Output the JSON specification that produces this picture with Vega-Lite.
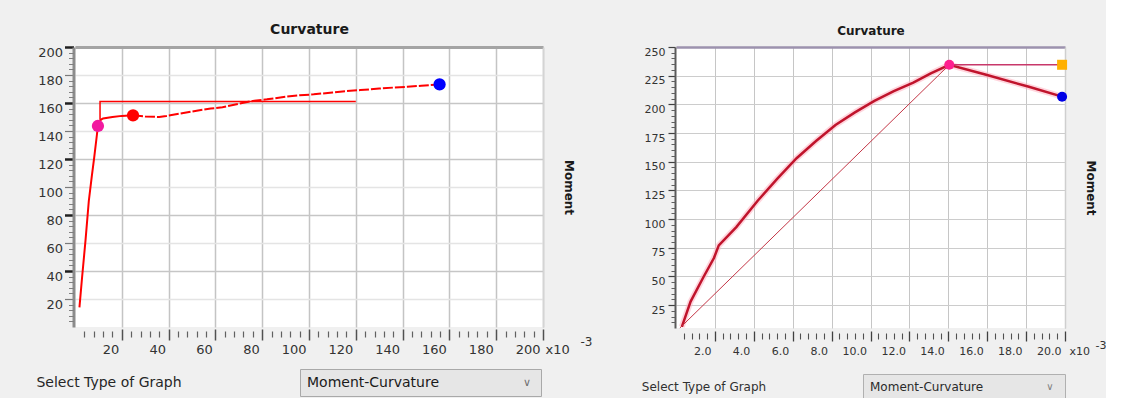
{
  "$schema": "https://vega.github.io/schema/vega-lite/v6.json",
  "background": "#f0f0f0",
  "padding": {"left": 36, "top": 22, "right": 0, "bottom": 0},
  "spacing": 49,
  "resolve": {"scale": {"color": "independent", "shape": "independent"}},
  "datasets": {
    "leftCurve": [
      {"curvature": 1.9, "moment": 14}, {"curvature": 3.0, "moment": 35}, {"curvature": 4.5, "moment": 62},
      {"curvature": 5.9, "moment": 90}, {"curvature": 7.2, "moment": 108}, {"curvature": 8.2, "moment": 121},
      {"curvature": 9.2, "moment": 135}, {"curvature": 9.8, "moment": 143.6}, {"curvature": 11.0, "moment": 148},
      {"curvature": 12.0, "moment": 149}, {"curvature": 16, "moment": 150}, {"curvature": 20, "moment": 150.8},
      {"curvature": 24.8, "moment": 151.2}
    ],
    "leftCurveTail": [
      {"curvature": 24.8, "moment": 151.2}, {"curvature": 30, "moment": 150.3}, {"curvature": 36, "moment": 150},
      {"curvature": 39, "moment": 150.7}, {"curvature": 45, "moment": 152.5}, {"curvature": 52, "moment": 154.5},
      {"curvature": 58, "moment": 156}, {"curvature": 63, "moment": 157}, {"curvature": 70, "moment": 159.5},
      {"curvature": 76, "moment": 161.5}, {"curvature": 82, "moment": 162.6}, {"curvature": 90, "moment": 164.5},
      {"curvature": 96, "moment": 165.5}, {"curvature": 102, "moment": 166.2}, {"curvature": 110, "moment": 167.5},
      {"curvature": 116, "moment": 168.5}, {"curvature": 122, "moment": 169.2}, {"curvature": 130, "moment": 170.3},
      {"curvature": 136, "moment": 171}, {"curvature": 142, "moment": 171.6}, {"curvature": 148, "moment": 172.3},
      {"curvature": 155.8, "moment": 173.3}
    ],
    "leftEnvelope": [
      {"seq": 1, "curvature": 10.7, "moment": 148},
      {"seq": 2, "curvature": 10.7, "moment": 161},
      {"seq": 3, "curvature": 120, "moment": 161}
    ],
    "leftPoints": [
      {"state": "yield", "curvature": 9.8, "moment": 143.6},
      {"state": "post-yield", "curvature": 24.8, "moment": 151.2},
      {"state": "ultimate", "curvature": 155.8, "moment": 173.3}
    ],
    "rightCurve": [
      {"curvature": 0.3, "moment": 6}, {"curvature": 0.75, "moment": 28}, {"curvature": 1.4, "moment": 49},
      {"curvature": 1.95, "moment": 66}, {"curvature": 2.2, "moment": 77}, {"curvature": 3.1, "moment": 93},
      {"curvature": 4.2, "moment": 116}, {"curvature": 5.2, "moment": 135}, {"curvature": 6.2, "moment": 153},
      {"curvature": 7.2, "moment": 168}, {"curvature": 8.2, "moment": 182}, {"curvature": 9.2, "moment": 193},
      {"curvature": 10.2, "moment": 203}, {"curvature": 11.2, "moment": 211.5}, {"curvature": 12.2, "moment": 219},
      {"curvature": 13.1, "moment": 227}, {"curvature": 14.05, "moment": 234.5}, {"curvature": 15.9, "moment": 226},
      {"curvature": 18.1, "moment": 215.5}, {"curvature": 19.85, "moment": 206.7}
    ],
    "rightSecant": [
      {"curvature": 0.2, "moment": 5},
      {"curvature": 14.05, "moment": 234.5}
    ],
    "rightPlateau": [
      {"curvature": 14.05, "moment": 234.5},
      {"curvature": 19.85, "moment": 234.5}
    ],
    "rightPoints": [
      {"state": "yield", "curvature": 14.05, "moment": 234.5},
      {"state": "plastic", "curvature": 19.85, "moment": 234.5},
      {"state": "ultimate", "curvature": 19.85, "moment": 206.7}
    ]
  },
  "hconcat": [
    {
      "vconcat": [
        {
          "width": 468,
          "height": 280,
          "layer": [
            {
              "data": {"name": "leftEnvelope"},
              "mark": {"type": "line", "color": "#ff0000", "strokeWidth": 1.5},
              "encoding": {
                "x": {
                  "field": "curvature", "type": "quantitative",
                  "scale": {"domain": [0, 200], "nice": false, "zero": false},
                  "axis": {
                    "orient": "bottom", "values": [20, 40, 60, 80, 100, 120, 140, 160, 180, 200],
                    "grid": true, "gridColor": "#c4c4c4", "gridWidth": 1.5, "domain": false,
                    "offset": 2, "tickSize": 11, "tickColor": "#505050", "tickWidth": 1.5,
                    "labelFontSize": 13, "labelAlign": "right", "labelOffset": -3, "labelPadding": 3,
                    "labelFlush": false, "labelOverlap": false, "labelColor": "#333333",
                    "title": "x10", "titleX": 470, "titleY": 14, "titleAlign": "left", "titleBaseline": "top",
                    "titleFontSize": 13, "titleFontWeight": "normal", "titleColor": "#333333"
                  }
                },
                "y": {
                  "field": "moment", "type": "quantitative",
                  "scale": {"domain": [0, 200], "nice": false, "zero": false},
                  "axis": {
                    "orient": "left", "values": [20, 40, 60, 80, 100, 120, 140, 160, 180, 200],
                    "grid": true,
                    "gridColor": {"condition": {"test": "datum.value % 40 === 0", "value": "#c6c6c6"}, "value": "#e4e4e4"},
                    "gridWidth": 1.5,
                    "domain": true, "domainColor": "#8c8c8c", "domainWidth": 3, "offset": 1.5,
                    "tickSize": 9,
                    "tickColor": {"condition": {"test": "datum.value % 40 === 0", "value": "#202020"}, "value": "#7a7a7a"},
                    "tickWidth": {"condition": {"test": "datum.value % 40 === 0", "value": 2.5}, "value": 1.2},
                    "labelFontSize": 13, "labelPadding": 2, "labelOffset": 5, "labelColor": "#333333",
                    "labelFlush": false, "labelOverlap": false,
                    "title": null
                  }
                },
                "order": {"field": "seq", "type": "quantitative"}
              }
            },
            {
              "data": {"name": "leftCurve"},
              "mark": {"type": "line", "color": "#ff0000", "strokeWidth": 2},
              "encoding": {
                "x": {
                  "field": "curvature", "type": "quantitative",
                  "scale": {"domain": [0, 200], "nice": false, "zero": false},
                  "axis": {
                    "orient": "bottom",
                    "values": [4, 8, 12, 16, 24, 28, 32, 36, 44, 48, 52, 56, 64, 68, 72, 76, 84, 88, 92, 96, 104, 108, 112, 116, 124, 128, 132, 136, 144, 148, 152, 156, 164, 168, 172, 176, 184, 188, 192, 196],
                    "grid": false, "domain": false, "labels": false,
                    "offset": 4, "tickSize": 6, "tickColor": "#606060", "tickWidth": 1.2,
                    "title": "-3", "titleX": 505, "titleY": 5, "titleAlign": "left", "titleBaseline": "top",
                    "titleFontSize": 12, "titleFontWeight": "normal", "titleColor": "#333333"
                  }
                },
                "y": {
                  "field": "moment", "type": "quantitative",
                  "scale": {"domain": [0, 200], "nice": false, "zero": false},
                  "axis": {
                    "orient": "left",
                    "values": [4, 8, 12, 16, 24, 28, 32, 36, 44, 48, 52, 56, 64, 68, 72, 76, 84, 88, 92, 96, 104, 108, 112, 116, 124, 128, 132, 136, 144, 148, 152, 156, 164, 168, 172, 176, 184, 188, 192, 196],
                    "grid": false, "domain": false, "labels": false,
                    "offset": 1.5, "tickSize": 5, "tickColor": "#808080", "tickWidth": 1,
                    "title": null
                  }
                }
              }
            },
            {
              "data": {"name": "leftCurveTail"},
              "mark": {"type": "line", "color": "#ff0000", "strokeWidth": 2, "strokeDash": [10, 2]},
              "encoding": {
                "x": {"field": "curvature", "type": "quantitative", "scale": {"domain": [0, 200], "nice": false, "zero": false}, "axis": null},
                "y": {"field": "moment", "type": "quantitative", "scale": {"domain": [0, 200], "nice": false, "zero": false}, "axis": null}
              }
            },
            {
              "data": {"name": "leftPoints"},
              "mark": {"type": "point", "filled": true, "size": 150, "opacity": 1},
              "encoding": {
                "x": {
                  "field": "curvature", "type": "quantitative",
                  "scale": {"domain": [0, 200], "nice": false, "zero": false},
                  "axis": {
                    "orient": "top", "labels": false, "ticks": false, "grid": false,
                    "domain": true, "domainColor": "#a4a4a4", "domainWidth": 3,
                    "title": "Curvature", "titleFontSize": 14, "titleFontWeight": "bold",
                    "titlePadding": 11, "titleColor": "#1a1a1a"
                  }
                },
                "y": {
                  "field": "moment", "type": "quantitative",
                  "scale": {"domain": [0, 200], "nice": false, "zero": false},
                  "axis": {
                    "orient": "right", "labels": false, "ticks": false, "grid": false,
                    "domain": true, "domainColor": "#d4d4d4", "domainWidth": 1.5,
                    "title": "Moment", "titleFontSize": 12, "titleFontWeight": "bold",
                    "titlePadding": 18, "titleColor": "#1a1a1a"
                  }
                },
                "color": {
                  "field": "state", "type": "nominal",
                  "scale": {"domain": ["yield", "post-yield", "ultimate"], "range": ["#f21aa0", "#ff0000", "#0000ff"]},
                  "legend": null
                }
              }
            }
          ],
          "resolve": {"axis": {"x": "independent", "y": "independent"}}
        },
        {
          "hconcat": [
            {
              "width": 68,
              "height": 27,
              "view": {"fill": null, "stroke": null},
              "data": {"values": [{"caption": "Select Type of Graph"}]},
              "mark": {"type": "text", "fontSize": 14, "color": "#262626"},
              "encoding": {"text": {"field": "caption"}}
            },
            {
              "width": 241,
              "height": 27,
              "view": {"fill": "#e6e6e6", "stroke": "#a9a9a9"},
              "data": {"values": [{"choice": "Moment-Curvature"}]},
              "layer": [
                {
                  "mark": {"type": "text", "align": "left", "dx": -113.5, "fontSize": 14, "color": "#1a1a1a"},
                  "encoding": {"text": {"field": "choice"}}
                },
                {
                  "mark": {"type": "text", "dx": 106.5, "fontSize": 11, "color": "#707070"},
                  "encoding": {"text": {"value": "∨"}}
                }
              ]
            }
          ],
          "spacing": 117
        }
      ],
      "spacing": 12
    },
    {
      "vconcat": [
        {
          "width": 389,
          "height": 281,
          "layer": [
            {
              "data": {"name": "rightCurve"},
              "mark": {"type": "line", "color": "#ffb3c1", "strokeWidth": 6, "opacity": 0.55},
              "encoding": {
                "x": {
                  "field": "curvature", "type": "quantitative",
                  "scale": {"domain": [0, 20], "nice": false, "zero": false},
                  "axis": {
                    "orient": "bottom", "values": [2, 4, 6, 8, 10, 12, 14, 16, 18, 20], "format": ".1f",
                    "grid": true, "gridColor": "#c6c6c6", "gridWidth": 1, "domain": false,
                    "offset": 3, "tickSize": 10, "tickColor": "#404040", "tickWidth": 1.3,
                    "labelFontSize": 11, "labelAlign": "right", "labelOffset": -4, "labelPadding": 4,
                    "labelFlush": false, "labelOverlap": false, "labelColor": "#333333",
                    "title": "x10", "titleX": 393, "titleY": 14, "titleAlign": "left", "titleBaseline": "top",
                    "titleFontSize": 11, "titleFontWeight": "normal", "titleColor": "#333333"
                  }
                },
                "y": {
                  "field": "moment", "type": "quantitative",
                  "scale": {"domain": [5, 250], "nice": false, "zero": false},
                  "axis": {
                    "orient": "left", "values": [25, 50, 75, 100, 125, 150, 175, 200, 225, 250],
                    "grid": true, "gridColor": "#cccccc", "gridWidth": 1,
                    "domain": true, "domainColor": "#5a5a5a", "domainWidth": 2, "offset": 1,
                    "tickSize": 7, "tickColor": "#404040", "tickWidth": 1.2,
                    "labelFontSize": 11, "labelPadding": 3, "labelOffset": 5, "labelColor": "#333333",
                    "labelFlush": false, "labelOverlap": false,
                    "title": null
                  }
                }
              }
            },
            {
              "data": {"name": "rightCurve"},
              "mark": {"type": "line", "color": "#c0142c", "strokeWidth": 2.5},
              "encoding": {
                "x": {
                  "field": "curvature", "type": "quantitative",
                  "scale": {"domain": [0, 20], "nice": false, "zero": false},
                  "axis": {
                    "orient": "bottom",
                    "values": [0.4, 0.8, 1.2, 1.6, 2.4, 2.8, 3.2, 3.6, 4.4, 4.8, 5.2, 5.6, 6.4, 6.8, 7.2, 7.6, 8.4, 8.8, 9.2, 9.6, 10.4, 10.8, 11.2, 11.6, 12.4, 12.8, 13.2, 13.6, 14.4, 14.8, 15.2, 15.6, 16.4, 16.8, 17.2, 17.6, 18.4, 18.8, 19.2, 19.6],
                    "grid": false, "domain": false, "labels": false,
                    "offset": 5, "tickSize": 6, "tickColor": "#505050", "tickWidth": 1.1,
                    "title": "-3", "titleX": 419, "titleY": 6, "titleAlign": "left", "titleBaseline": "top",
                    "titleFontSize": 11, "titleFontWeight": "normal", "titleColor": "#333333"
                  }
                },
                "y": {
                  "field": "moment", "type": "quantitative",
                  "scale": {"domain": [5, 250], "nice": false, "zero": false},
                  "axis": {
                    "orient": "left",
                    "values": [10, 15, 20, 30, 35, 40, 45, 55, 60, 65, 70, 80, 85, 90, 95, 105, 110, 115, 120, 130, 135, 140, 145, 155, 160, 165, 170, 180, 185, 190, 195, 205, 210, 215, 220, 230, 235, 240, 245],
                    "grid": false, "domain": false, "labels": false,
                    "offset": 1, "tickSize": 4, "tickColor": "#606060", "tickWidth": 1,
                    "title": null
                  }
                }
              }
            },
            {
              "data": {"name": "rightSecant"},
              "mark": {"type": "line", "color": "#c43646", "strokeWidth": 1},
              "encoding": {
                "x": {
                  "field": "curvature", "type": "quantitative",
                  "scale": {"domain": [0, 20], "nice": false, "zero": false},
                  "axis": {
                    "orient": "top", "labels": false, "ticks": false, "grid": false,
                    "domain": true, "domainColor": "#9c92ae", "domainWidth": 2.5,
                    "title": "Curvature", "titleFontSize": 12, "titleFontWeight": "bold",
                    "titlePadding": 10, "titleColor": "#1a1a1a"
                  }
                },
                "y": {
                  "field": "moment", "type": "quantitative",
                  "scale": {"domain": [5, 250], "nice": false, "zero": false},
                  "axis": {
                    "orient": "right", "labels": false, "ticks": false, "grid": false,
                    "domain": true, "domainColor": "#cfcfcf", "domainWidth": 1.5,
                    "title": "Moment", "titleFontSize": 12, "titleFontWeight": "bold",
                    "titlePadding": 18, "titleColor": "#1a1a1a"
                  }
                }
              }
            },
            {
              "data": {"name": "rightPlateau"},
              "mark": {"type": "line", "color": "#c8386a", "strokeWidth": 1.6},
              "encoding": {
                "x": {"field": "curvature", "type": "quantitative", "scale": {"domain": [0, 20], "nice": false, "zero": false}, "axis": null},
                "y": {"field": "moment", "type": "quantitative", "scale": {"domain": [5, 250], "nice": false, "zero": false}, "axis": null}
              }
            },
            {
              "data": {"name": "rightPoints"},
              "mark": {"type": "point", "filled": true, "size": 100, "opacity": 1},
              "encoding": {
                "x": {"field": "curvature", "type": "quantitative", "scale": {"domain": [0, 20], "nice": false, "zero": false}, "axis": null},
                "y": {"field": "moment", "type": "quantitative", "scale": {"domain": [5, 250], "nice": false, "zero": false}, "axis": null},
                "color": {
                  "field": "state", "type": "nominal",
                  "scale": {"domain": ["yield", "plastic", "ultimate"], "range": ["#ff1f8f", "#ffb000", "#0000e6"]},
                  "legend": null
                },
                "shape": {
                  "field": "state", "type": "nominal",
                  "scale": {"domain": ["yield", "plastic", "ultimate"], "range": ["circle", "square", "circle"]},
                  "legend": null
                }
              }
            }
          ],
          "resolve": {"axis": {"x": "independent", "y": "independent"}}
        },
        {
          "hconcat": [
            {
              "width": 56,
              "height": 26,
              "view": {"fill": null, "stroke": null},
              "data": {"values": [{"caption": "Select Type of Graph"}]},
              "mark": {"type": "text", "fontSize": 12, "color": "#303030"},
              "encoding": {"text": {"field": "caption"}}
            },
            {
              "width": 202,
              "height": 26,
              "view": {"fill": "#e6e6e6", "stroke": "#b0b0b0"},
              "data": {"values": [{"choice": "Moment-Curvature"}]},
              "layer": [
                {
                  "mark": {"type": "text", "align": "left", "dx": -94, "fontSize": 12, "color": "#2a2a2a"},
                  "encoding": {"text": {"field": "choice"}}
                },
                {
                  "mark": {"type": "text", "dx": 86, "fontSize": 10, "color": "#808080"},
                  "encoding": {"text": {"value": "∨"}}
                }
              ]
            }
          ],
          "spacing": 95
        }
      ],
      "spacing": 17
    }
  ],
  "config": {
    "font": "DejaVu Sans",
    "view": {"fill": "white", "stroke": null},
    "axis": {"labelFont": "DejaVu Sans", "titleFont": "DejaVu Sans"},
    "text": {"font": "DejaVu Sans"}
  }
}
